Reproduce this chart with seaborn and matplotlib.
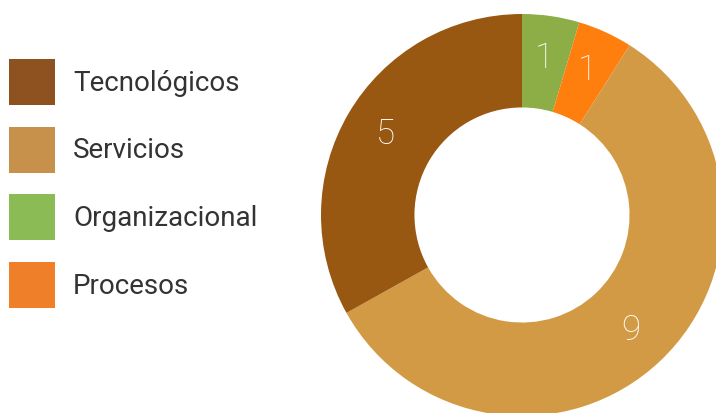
import matplotlib
matplotlib.use("Agg")
import matplotlib.pyplot as plt
import seaborn as sns
from matplotlib.patches import Patch

# Data (pie order, clockwise from top)
categories = ["Organizacional", "Procesos", "Servicios", "Tecnológicos"]
counts = [1, 1, 9, 5]
# slice sizes as drawn in the reference (percent of the ring)
shares = [4.6, 4.4, 57.9, 33.1]
pie_colors = ["#8DAE47", "#FF7F0E", "#D29A44", "#995811"]

# Legend order as in the reference
legend_labels = ["Tecnológicos", "Servicios", "Organizacional", "Procesos"]
legend_colors = ["#8E5220", "#C8914B", "#8BBB55", "#F07F2A"]

sns.set_theme(style="white")
plt.rcParams['font.family'] = ['Roboto', 'DejaVu Sans']

fig = plt.figure(figsize=(7.16, 4.13), dpi=100)
W, H = 716, 413
cx, cy, r = 522, 215, 201
ax = fig.add_axes([(cx - r) / W, (H - cy - r) / H, 2 * r / W, 2 * r / H])

wedges, texts = ax.pie(
    shares,
    colors=pie_colors,
    startangle=90,
    counterclock=False,
    radius=1,
    labels=[str(v) for v in counts],
    labeldistance=0.79,
    wedgeprops=dict(width=0.465, edgecolor="none", linewidth=0),
    textprops=dict(color="white", fontsize=25, fontweight="light", ha="center", va="center"),
)
ax.set_xlim(-1, 1)
ax.set_ylim(-1, 1)
ax.set_aspect("equal")
ax.axis("off")

handles = [Patch(facecolor=c, edgecolor="none") for c in legend_colors]
fig.legend(
    handles, legend_labels,
    loc="upper left",
    bbox_to_anchor=(9 / W, 1 - 59 / H),
    frameon=False,
    fontsize=20,
    handlelength=1.655,
    handleheight=2.17,
    handletextpad=0.65,
    labelspacing=0.78,
    borderaxespad=0,
    borderpad=0,
    labelcolor="#333333",
)

fig.savefig("out.png", dpi=100)
